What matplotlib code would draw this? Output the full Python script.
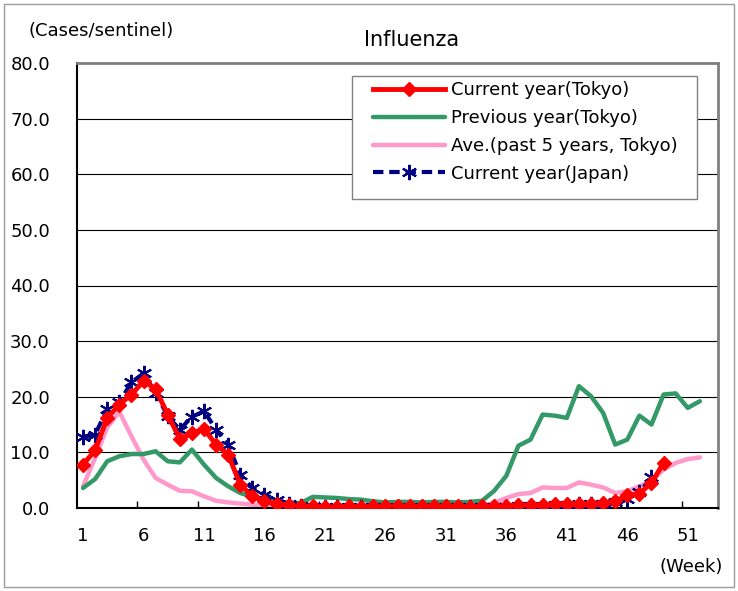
import matplotlib
matplotlib.use("Agg")
import matplotlib.pyplot as plt
from matplotlib.patches import Rectangle

plt.rcParams["font.family"] = ["DejaVu Sans"]

# weekly values (cases per sentinel)
cur_tokyo = [7.8, 10.4, 16.2, 18.6, 20.4, 22.8, 21.4, 16.8, 12.4, 13.4,
             14.2, 11.4, 9.6, 4.2, 2.1, 1.2, 0.8, 0.5, 0.3, 0.3,
             0.2, 0.2, 0.3, 0.2, 0.3, 0.3, 0.4, 0.3, 0.3, 0.4,
             0.3, 0.3, 0.2, 0.3, 0.3, 0.4, 0.5, 0.5, 0.6, 0.7,
             0.8, 0.8, 0.8, 0.9, 1.2, 2.3, 2.6, 4.5, 8.1]
prev_tokyo = [3.6, 5.2, 8.4, 9.3, 9.7, 9.7, 10.2, 8.4, 8.2, 10.5,
              7.8, 5.4, 3.9, 2.7, 2.0, 1.6, 1.2, 0.9, 0.9, 2.0,
              1.9, 1.8, 1.6, 1.5, 1.2, 1.0, 1.1, 1.1, 1.0, 1.1,
              1.1, 1.0, 1.1, 1.3, 3.1, 5.8, 11.2, 12.3, 16.8, 16.6,
              16.2, 21.9, 20.1, 17.1, 11.4, 12.3, 16.6, 15.0, 20.4, 20.6,
              18.0, 19.2]
avg5_tokyo = [3.9, 9.0, 14.5, 17.3, 12.9, 8.7, 5.4, 4.2, 3.1, 3.0,
              2.1, 1.3, 1.0, 0.8, 0.6, 0.4, 0.3, 0.2, 0.2, 0.2,
              0.2, 0.2, 0.2, 0.2, 0.2, 0.2, 0.2, 0.2, 0.2, 0.2,
              0.2, 0.2, 0.2, 0.3, 1.0, 1.8, 2.5, 2.7, 3.7, 3.6,
              3.6, 4.6, 4.2, 3.7, 2.7, 3.0, 3.9, 4.8, 6.9, 8.1,
              8.8, 9.1]
cur_japan = [12.8, 13.2, 17.8, 19.0, 22.6, 24.2, 20.7, 16.5, 14.1, 16.4,
             17.4, 14.1, 11.4, 6.0, 3.6, 2.4, 1.5, 0.8, 0.4, 0.1,
             0.1, 0.1, 0.1, 0.1, 0.1, 0.1, 0.1, 0.1, 0.1, 0.1,
             0.1, 0.1, 0.1, 0.1, 0.1, 0.2, 0.3, 0.3, 0.4, 0.5,
             0.6, 0.7, 0.7, 0.8, 1.0, 1.7, 2.8, 5.5]

labels = ["Current year(Tokyo)", "Previous year(Tokyo)",
          "Ave.(past 5 years, Tokyo)", "Current year(Japan)"]
week_ticks = [1, 6, 11, 16, 21, 26, 31, 36, 41, 46, 51]
y_ticks = [0, 10, 20, 30, 40, 50, 60, 70, 80]

W, H = 738, 591
fig = plt.figure(figsize=(W / 100, H / 100), dpi=100)
ax = fig.add_axes([77 / W, 1 - 508 / H, (718 - 77) / W, (508 - 63) / H])

def weeks(vals):
    return list(range(1, len(vals) + 1))

l_red, = ax.plot(weeks(cur_tokyo), cur_tokyo, color="red", lw=3.5,
                 marker="D", ms=7, mec="red", zorder=5)
l_green, = ax.plot(weeks(prev_tokyo), prev_tokyo, color="#339966", lw=3.2,
                   solid_capstyle="round", zorder=3)
l_pink, = ax.plot(weeks(avg5_tokyo), avg5_tokyo, color="#FF99CC", lw=3.2,
                  solid_capstyle="round", zorder=2)
l_navy, = ax.plot(weeks(cur_japan), cur_japan, color="#000080", lw=3,
                  ls="--", dashes=(2.5, 1.4), marker=(6, 2, 0), ms=11,
                  mew=1.5, zorder=4)

ax.set_xlim(0.5, 53.5)
ax.set_ylim(0, 80)
ax.set_yticks(y_ticks)
ax.set_yticklabels([f"{v:.1f}" for v in y_ticks])
ax.set_xticks(week_ticks)
ax.set_xticks([k + 0.5 for k in range(5, 51, 5)], minor=True)
ax.tick_params(axis="y", length=0, pad=19.5, labelsize=13)
ax.tick_params(axis="x", which="major", length=0, pad=13.5, labelsize=13)
ax.tick_params(axis="x", which="minor", direction="in", length=5,
               width=1, color="black")

ax.yaxis.grid(True, color="black", lw=0.8)
ax.set_axisbelow(True)
for s in ["left", "bottom"]:
    ax.spines[s].set_color("black")
    ax.spines[s].set_linewidth(1.5)
for s in ["top", "right"]:
    ax.spines[s].set_color("#808080")
    ax.spines[s].set_linewidth(2)

fig.text(28 / W, 1 - 31 / H, "(Cases/sentinel)", ha="left", va="center",
         fontsize=13)
fig.text(412 / W, 1 - 40 / H, "Influenza", ha="center", va="center",
         fontsize=15)
fig.text(723 / W, 1 - 567 / H, "(Week)", ha="right", va="center",
         fontsize=13)

# legend box
fig.add_artist(Rectangle((352 / W, 1 - 199 / H), (697 - 352) / W,
                         (199 - 76) / H, transform=fig.transFigure,
                         facecolor="white", edgecolor="#808080", lw=1,
                         zorder=1))
fig.legend([l_red, l_green, l_pink, l_navy], labels, loc="upper left",
           bbox_to_anchor=(373 / W, 1 - 81 / H), bbox_transform=fig.transFigure,
           frameon=False, borderpad=0, borderaxespad=0, handlelength=4,
           handletextpad=0.3, labelspacing=0.55, numpoints=1, fontsize=13)

# outer border
fig.add_artist(Rectangle((4 / W, 4 / H), (W - 8) / W, (H - 8) / H,
                         transform=fig.transFigure, fill=False,
                         edgecolor="#9a9a9a", lw=1, zorder=0))

fig.savefig("out.png", dpi=100)
